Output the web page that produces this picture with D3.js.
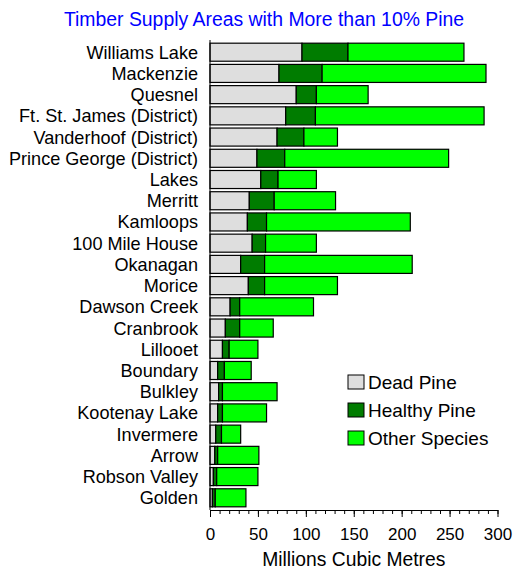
<!DOCTYPE html>
<html>
<head>
<meta charset="utf-8">
<script src="https://cdn.jsdelivr.net/npm/d3@7"></script>
<style>
  body { margin: 0; background: #fff; }
  svg text { font-family: "Liberation Sans", Arial, sans-serif; fill: #000; }
</style>
</head>
<body>
<div id="chart"></div>
<script>
// Timber supply areas, top to bottom
const areas = [
  "Williams Lake", "Mackenzie", "Quesnel", "Ft. St. James (District)",
  "Vanderhoof (District)", "Prince George (District)", "Lakes", "Merritt",
  "Kamloops", "100 Mile House", "Okanagan", "Morice", "Dawson Creek",
  "Cranbrook", "Lillooet", "Boundary", "Bulkley", "Kootenay Lake",
  "Invermere", "Arrow", "Robson Valley", "Golden"
];

// millions of cubic metres
const deadPine    = [96, 72, 90, 79, 70, 49, 53, 41, 39, 44, 32, 40, 21, 16, 13, 8, 9, 8, 6, 5, 3.5, 2.5];
const healthyPine = [48, 45, 21, 31, 28, 29, 18, 26, 20, 14, 25, 17, 10, 15, 7, 7, 4, 5, 6, 3, 3.5, 3];
const otherSpecies = [121, 171, 54, 176, 35, 171, 40, 64, 150, 53, 154, 76, 77, 35, 30, 28, 57, 46, 20, 43, 43, 32];

const seriesNames = ["Dead Pine", "Healthy Pine", "Other Species"];
const seriesColors = ["#dedede", "#007c00", "#00ff00"];
const xTicks = [0, 50, 100, 150, 200, 250, 300];

const width = 513, height = 569;
const margin = { top: 40, right: 16, bottom: 59, left: 210 };

const rows = areas.map((a, i) => ({
  area: a,
  "Dead Pine": deadPine[i],
  "Healthy Pine": healthyPine[i],
  "Other Species": otherSpecies[i]
}));

const stacked = d3.stack().keys(seriesNames)(rows);

const svg = d3.select("#chart")
  .append("svg")
  .attr("width", width)
  .attr("height", height);

const x = d3.scaleLinear()
  .domain([0, 300])
  .range([margin.left, 497.5]);

const y = d3.scaleBand()
  .domain(areas)
  .range([margin.top, height - margin.bottom])
  .padding(0.15);

const color = d3.scaleOrdinal().domain(seriesNames).range(seriesColors);

// title
svg.append("text")
  .attr("x", 264)
  .attr("y", 26)
  .attr("text-anchor", "middle")
  .style("font-size", "19.4px")
  .style("fill", "#0000ff")
  .text("Timber Supply Areas with More than 10% Pine");

// bars
svg.selectAll("g.layer")
  .data(stacked)
  .enter()
  .append("g")
  .attr("class", "layer")
  .attr("fill", d => color(d.key))
  .selectAll("rect")
  .data(d => d)
  .enter()
  .append("rect")
  .attr("x", d => x(d[0]))
  .attr("y", d => y(d.data.area))
  .attr("width", d => x(d[1]) - x(d[0]))
  .attr("height", y.bandwidth())
  .attr("stroke", "#000")
  .attr("stroke-width", 1.2);

// category labels
svg.selectAll("text.cat")
  .data(areas)
  .enter()
  .append("text")
  .attr("class", "cat")
  .attr("x", 198)
  .attr("y", d => y(d) + y.bandwidth() / 2)
  .attr("dy", "0.36em")
  .attr("text-anchor", "end")
  .style("font-size", "18.1px")
  .text(d => d);

// left axis line
svg.append("line")
  .attr("x1", margin.left).attr("x2", margin.left)
  .attr("y1", margin.top).attr("y2", height - margin.bottom)
  .attr("stroke", "#000");

// x axis: minor ticks then major ticks
const axisY = height - margin.bottom;
svg.append("g")
  .attr("transform", `translate(0,${axisY})`)
  .call(d3.axisBottom(x).ticks(30).tickSize(4).tickFormat(""))
  .call(g => g.select(".domain").remove());

const xAxis = svg.append("g")
  .attr("transform", `translate(0,${axisY})`)
  .call(d3.axisBottom(x).tickValues(xTicks).tickSize(7).tickSizeOuter(0).tickPadding(11));

xAxis.selectAll("text")
  .style("font-size", "17px")
  .style("font-family", "'Liberation Sans', Arial, sans-serif");

svg.selectAll(".tick line").attr("stroke", "#000");

// axis title
svg.append("text")
  .attr("x", (x(0) + x(300)) / 2)
  .attr("y", 566)
  .attr("text-anchor", "middle")
  .style("font-size", "19.3px")
  .text("Millions Cubic Metres");

// legend
const legend = svg.append("g")
  .attr("transform", "translate(348,375)");

const items = legend.selectAll("g")
  .data(seriesNames)
  .enter()
  .append("g")
  .attr("transform", (d, i) => `translate(0,${i * 28})`);

items.append("rect")
  .attr("width", 16)
  .attr("height", 14)
  .attr("fill", d => color(d))
  .attr("stroke", "#000");

items.append("text")
  .attr("x", 20)
  .attr("y", 14)
  .style("font-size", "19px")
  .text(d => d);
</script>
</body>
</html>
